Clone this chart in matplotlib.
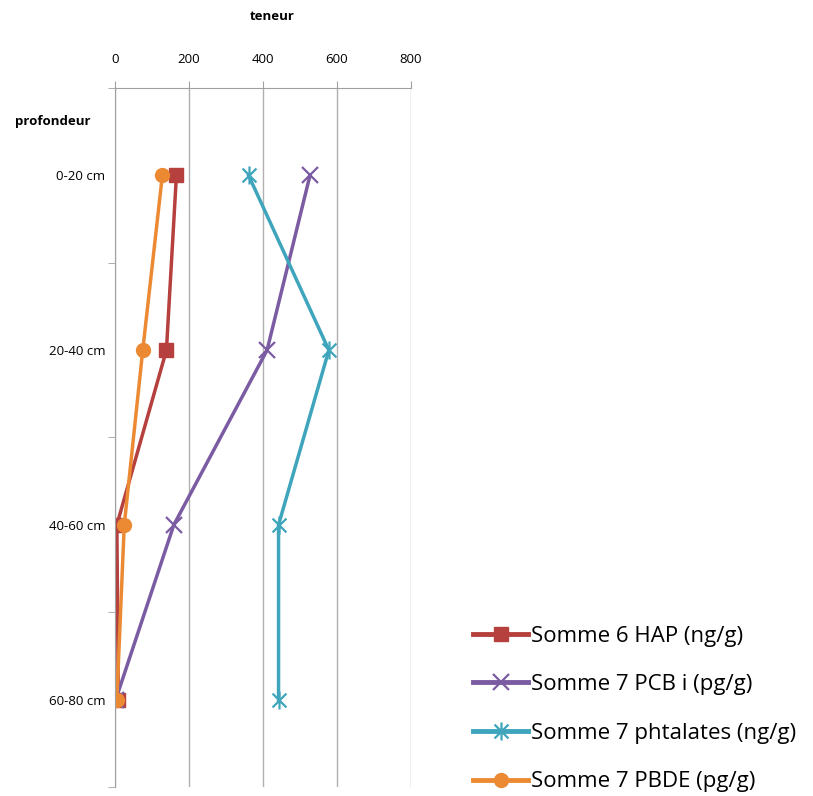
import numpy as np
import matplotlib.pyplot as plt
from matplotlib.path import Path
from matplotlib.lines import Line2D

# Données
profondeurs = ["0-20 cm", "20-40 cm", "40-60 cm", "60-80 cm"]
hap = [166, 139, 5, 9]
pcb = [527, 411, 159, 2]
phtalates = [361, 578, 442, 442]
pbde = [128, 75, 25, 5]
labels = ["Somme 6 HAP (ng/g)", "Somme 7 PCB i (pg/g)",
          "Somme 7 phtalates (ng/g)", "Somme 7 PBDE (pg/g)"]
xticks = [0, 200, 400, 600, 800]

# marqueur "étoile" façon Excel : croix + trait vertical
star = Path([(-1, -1), (1, 1), (-1, 1), (1, -1), (0, -1.3), (0, 1.3)],
            [Path.MOVETO, Path.LINETO, Path.MOVETO, Path.LINETO, Path.MOVETO, Path.LINETO])

plt.rcParams['font.family'] = ['Open Sans', 'DejaVu Sans']

fig = plt.figure(figsize=(8.13, 7.96), dpi=100)
ax = fig.add_axes([115/813, 1-787/796, (411-115)/813, (787-88)/796])

y = np.arange(len(profondeurs))
styles = [
    (hap, "#B5403D", dict(marker="s", ms=10)),
    (pcb, "#7B5BA2", dict(marker="x", ms=11, mew=1.6)),
    (phtalates, "#3EA5BC", dict(marker=star, ms=13, mew=1.6)),
    (pbde, "#EC8A33", dict(marker="o", ms=10)),
]
handles = []
for (vals, col, mk), lab in zip(styles, labels):
    ax.plot(vals, y, color=col, lw=2.5, label=lab, **mk)
    handles.append(Line2D([], [], color=col, lw=3.5, **mk))

ax.set_ylim(3.5, -0.5)
ax.set_xlim(0, 800)
ax.set_yticks(y)
ax.set_yticklabels(profondeurs, fontsize=9.5)
ax.set_yticks(np.arange(-0.5, 4, 1), minor=True)
ax.tick_params(axis="y", which="major", length=0, pad=7)
ax.tick_params(axis="y", which="minor", length=5, color="#A0A0A0")

ax.xaxis.tick_top()
ax.set_xticks(xticks)
ax.set_xticklabels([str(v) for v in xticks], fontsize=9.5)
ax.tick_params(axis="x", length=5, color="#A0A0A0", pad=11)
ax.grid(axis="x", color="#B0B0B0", lw=1)
ax.set_axisbelow(True)

for s in ["right", "bottom"]:
    ax.spines[s].set_visible(False)
for s in ["left", "top"]:
    ax.spines[s].set_color("#A0A0A0")

fig.text(272/813, 1-16/796, "teneur", ha="center", va="center", fontsize=9.5, weight="bold")
fig.text(15/813, 1-121/796, "profondeur", ha="left", va="center", fontsize=9.5, weight="bold")

fig.legend(handles, labels, loc="center left", bbox_to_anchor=(464/813, 1-709/796),
           frameon=False, fontsize=16, handlelength=2.5, handletextpad=0.1,
           labelspacing=1.24, borderaxespad=0)

fig.savefig("out.png", dpi=100)
